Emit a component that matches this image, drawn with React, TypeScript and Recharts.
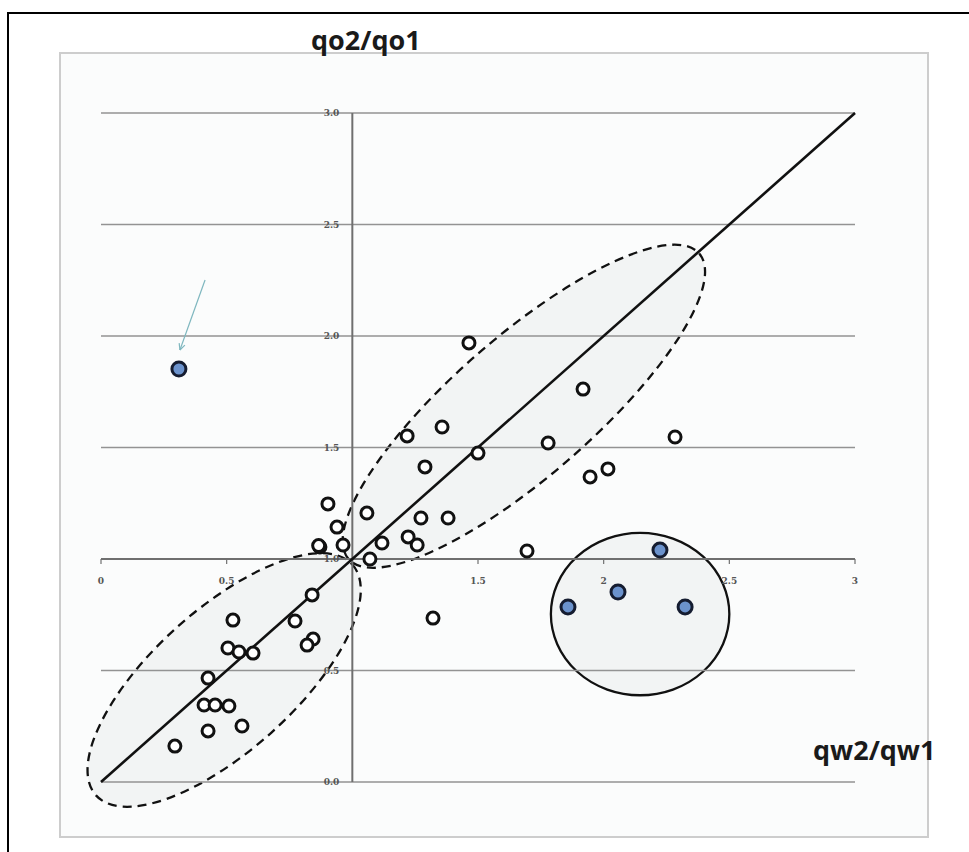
import React from "react";
import { ScatterChart, Scatter, XAxis, YAxis, ReferenceLine, ReferenceDot } from "recharts";

const W = 969;
const H = 852;

// axis grid / ticks
const gridValues = [0, 0.5, 1, 1.5, 2, 2.5, 3];
const yTickLabels = ["0.0", "0.5", "1.0", "1.5", "2.0", "2.5", "3.0"];
const xTickValues = [0, 0.5, 1.5, 2, 2.5, 3];
const xTickLabels = ["0", "0.5", "1.5", "2", "2.5", "3"];

// open circles: qw2/qw1 (x) vs qo2/qo1 (y)
const openX = [
  0.903, 1.058, 0.939, 0.871, 0.866, 0.963, 1.118, 1.07, 0.84, 0.772, 0.844, 0.82, 0.525, 0.505,
  0.549, 0.605, 0.426, 0.41, 0.454, 0.509, 0.426, 0.561, 0.294, 1.464, 1.918, 1.357, 1.218,
  2.284, 1.779, 1.5, 1.289, 2.017, 1.946, 1.273, 1.381, 1.222, 1.258, 1.695, 1.321,
];
const openY = [
  1.247, 1.206, 1.143, 1.054, 1.06, 1.063, 1.072, 1.0, 0.839, 0.722, 0.641, 0.614, 0.726, 0.601,
  0.583, 0.578, 0.466, 0.345, 0.345, 0.341, 0.229, 0.251, 0.161, 1.969, 1.762, 1.592, 1.552,
  1.547, 1.52, 1.475, 1.413, 1.404, 1.368, 1.184, 1.184, 1.099, 1.063, 1.036, 0.735,
];

// highlighted (blue) points
const blueX = [2.224, 2.057, 1.858, 2.324, 0.31];
const blueY = [1.04, 0.852, 0.785, 0.785, 1.852];

// 1:1 line
const diagX = [0, 3];
const diagY = [0, 3];

// ellipse annotations: major-axis end points + minor/major ratio
const lowerEllipseX = [-0.02, 1.0];
const lowerEllipseY = [-0.06, 0.975];
const lowerRatio = 0.41;
const upperEllipseX = [0.985, 2.38];
const upperEllipseY = [1.0, 2.37];
const upperRatio = 0.3;
const blueEllipseX = [1.79, 2.5];
const blueEllipseY = [0.753, 0.753];
const blueRatio = 0.91;

// arrow pointing at the outlier
const arrowX = [0.414, 0.314];
const arrowY = [2.251, 1.937];

const openData = openX.map((x, i) => ({ x, y: openY[i] }));
const blueData = blueX.map((x, i) => ({ x, y: blueY[i] }));

function ellipseShape(ratio: number, dashed: boolean) {
  return (p: any) => {
    const { x1, y1, x2, y2 } = p;
    if ([x1, y1, x2, y2].some((v) => typeof v !== "number" || isNaN(v))) return <g />;
    const cx = (x1 + x2) / 2;
    const cy = (y1 + y2) / 2;
    const a = Math.hypot(x2 - x1, y2 - y1) / 2;
    const ang = (Math.atan2(y2 - y1, x2 - x1) * 180) / Math.PI;
    return (
      <ellipse
        cx={cx}
        cy={cy}
        rx={a}
        ry={a * ratio}
        transform={`rotate(${ang} ${cx} ${cy})`}
        fill="#f1f3f3"
        fillOpacity={0.9}
        stroke="#111"
        strokeWidth={2.3}
        strokeDasharray={dashed ? "9 6" : undefined}
      />
    );
  };
}

function arrowShape(p: any) {
  const { x1, y1, x2, y2 } = p;
  if ([x1, y1, x2, y2].some((v) => typeof v !== "number" || isNaN(v))) return <g />;
  const ang = Math.atan2(y2 - y1, x2 - x1);
  const len = 7;
  const h1 = ang + Math.PI - 0.45;
  const h2 = ang + Math.PI + 0.45;
  return (
    <g stroke="#7fb7bf" strokeWidth={1.2} fill="none">
      <line x1={x1} y1={y1} x2={x2} y2={y2} />
      <line x1={x2} y1={y2} x2={x2 + len * Math.cos(h1)} y2={y2 + len * Math.sin(h1)} />
      <line x1={x2} y1={y2} x2={x2 + len * Math.cos(h2)} y2={y2 + len * Math.sin(h2)} />
    </g>
  );
}

const OpenDot = (p: any) => (
  <circle cx={p.cx} cy={p.cy} r={6} fill="#ffffff" stroke="#111" strokeWidth={3} />
);
const BlueDot = (p: any) => (
  <circle cx={p.cx} cy={p.cy} r={7} fill="#6b92cc" stroke="#151c30" strokeWidth={3} />
);

const tickMark = (p: any) => (
  <line x1={p.cx} y1={p.cy} x2={p.cx} y2={p.cy + 5} stroke="#707070" strokeWidth={1.2} />
);

const labelFont = { fontSize: 9, fill: "#555", fontFamily: "'DejaVu Serif', serif", fontWeight: 700 };

export default function App() {
  return (
    <div style={{ position: "absolute", left: 0, top: 0, width: W, height: H, overflow: "hidden", background: "#fff" }}>
      {/* outer black frame */}
      <div
        style={{
          position: "absolute",
          left: 7,
          top: 12,
          width: W,
          height: H,
          borderLeft: "2px solid #000",
          borderTop: "2px solid #000",
        }}
      />
      {/* inner chart box */}
      <div
        style={{
          position: "absolute",
          left: 59,
          top: 52,
          width: 866,
          height: 782,
          border: "2px solid #cdcdcd",
          background: "#fbfcfc",
        }}
      />
      <div style={{ position: "absolute", left: 0, top: 0 }}>
        <ScatterChart width={W} height={H} margin={{ top: 113, right: 114, bottom: 70, left: 101 }}>
          <XAxis type="number" dataKey="x" domain={[0, 3]} hide allowDataOverflow />
          <YAxis type="number" dataKey="y" domain={[0, 3]} hide allowDataOverflow />

          <ReferenceLine
            segment={[
              { x: lowerEllipseX[0], y: lowerEllipseY[0] },
              { x: lowerEllipseX[1], y: lowerEllipseY[1] },
            ]}
            ifOverflow="visible"
            shape={ellipseShape(lowerRatio, true)}
          />
          <ReferenceLine
            segment={[
              { x: upperEllipseX[0], y: upperEllipseY[0] },
              { x: upperEllipseX[1], y: upperEllipseY[1] },
            ]}
            ifOverflow="visible"
            shape={ellipseShape(upperRatio, true)}
          />
          <ReferenceLine
            segment={[
              { x: blueEllipseX[0], y: blueEllipseY[0] },
              { x: blueEllipseX[1], y: blueEllipseY[1] },
            ]}
            ifOverflow="visible"
            shape={ellipseShape(blueRatio, false)}
          />

          {gridValues.map((v) =>
            v === 1 ? null : <ReferenceLine key={`g${v}`} y={v} stroke="#939393" strokeWidth={1.5} />,
          )}
          <ReferenceLine y={1} stroke="#6f6f6f" strokeWidth={1.8} />
          <ReferenceLine x={1} stroke="#6f6f6f" strokeWidth={2} />

          {gridValues.map((v, i) => (
            <ReferenceDot
              key={`yl${v}`}
              x={1}
              y={v}
              r={0}
              fill="none"
              stroke="none"
              ifOverflow="visible"
              label={{ value: yTickLabels[i], position: "left", offset: 13, ...labelFont }}
            />
          ))}
          {xTickValues.map((v, i) => (
            <ReferenceDot
              key={`xl${v}`}
              x={v}
              y={1}
              r={0}
              ifOverflow="visible"
              shape={tickMark}
              label={{ value: xTickLabels[i], position: "bottom", offset: 19, ...labelFont }}
            />
          ))}

          <ReferenceLine
            segment={[
              { x: diagX[0], y: diagY[0] },
              { x: diagX[1], y: diagY[1] },
            ]}
            ifOverflow="visible"
            stroke="#111"
            strokeWidth={2.6}
          />
          <ReferenceLine
            segment={[
              { x: arrowX[0], y: arrowY[0] },
              { x: arrowX[1], y: arrowY[1] },
            ]}
            ifOverflow="visible"
            shape={arrowShape}
          />

          <Scatter data={openData} shape={OpenDot} isAnimationActive={false} />
          <Scatter data={blueData} shape={BlueDot} isAnimationActive={false} />
        </ScatterChart>
      </div>
      <svg width={W} height={H} style={{ position: "absolute", left: 0, top: 0, pointerEvents: "none" }}>
        <text x={311} y={50} fontFamily="'Open Sans', sans-serif" fontWeight={700} fontSize={27} fill="#1a1a1a">
          qo2/qo1
        </text>
        <text x={813} y={760} fontFamily="'Open Sans', sans-serif" fontWeight={700} fontSize={27} fill="#1a1a1a">
          qw2/qw1
        </text>
      </svg>
    </div>
  );
}
